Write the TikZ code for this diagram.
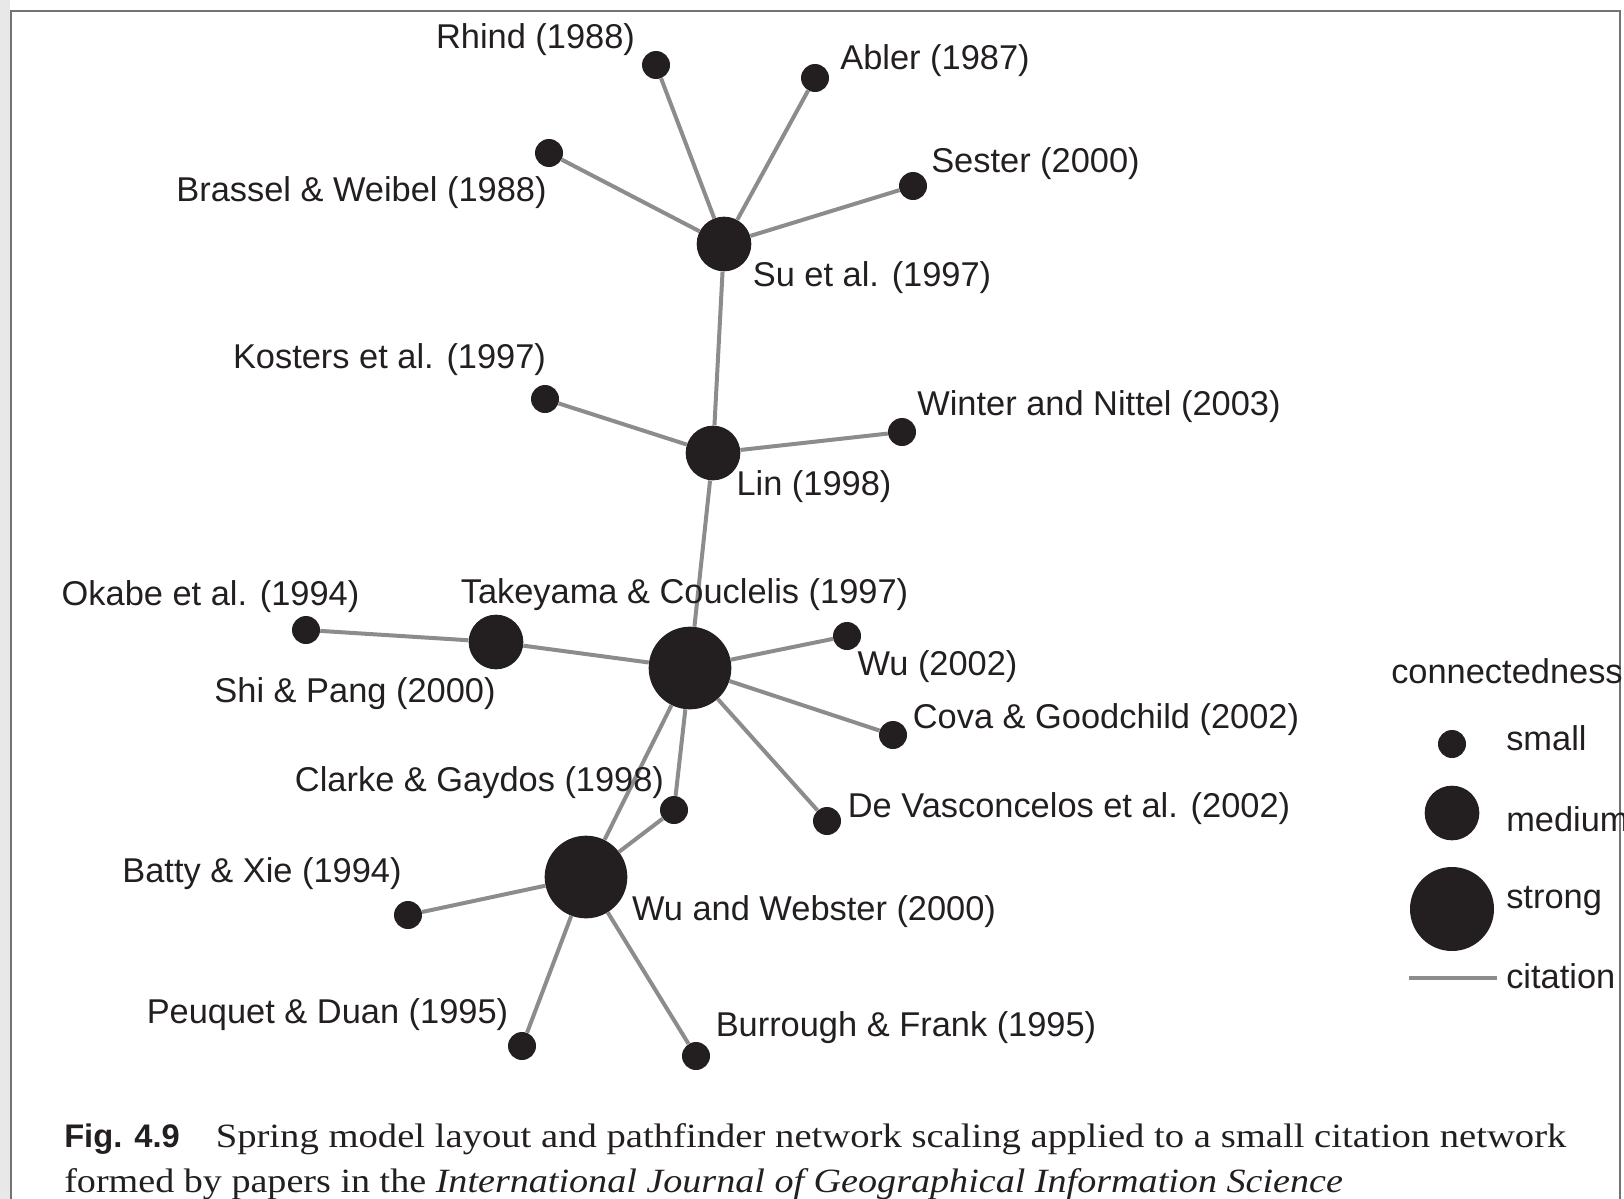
\documentclass[tikz,border=0pt]{standalone}
\usepackage{graphicx}
\usepackage{fontspec}
\setmainfont{Liberation Serif}
\setsansfont{Liberation Sans}
\definecolor{inkblack}{RGB}{35,31,32}
\definecolor{citegray}{RGB}{140,140,140}
\definecolor{framegray}{RGB}{115,115,115}
\tikzset{
	dotnode/.style={circle, fill=inkblack, inner sep=0pt},
	smalldot/.style={dotnode, minimum size=21pt},
	meddot/.style={dotnode, minimum size=41pt},
	bigdot/.style={dotnode, minimum size=62pt},
	lbl/.style={inner sep=0pt, text=inkblack, font=\sffamily\fontsize{25.8}{31}\selectfont},
	citeline/.style={draw=citegray, line width=3pt},
	captxt/.style={inner sep=0pt, text=inkblack, font=\fontsize{25.5}{31}\selectfont},
	capbold/.style={inner sep=0pt, text=inkblack, font=\sffamily\bfseries\fontsize{24.5}{31}\selectfont},
}
\begin{document}
\begin{tikzpicture}[x=0.75pt,y=0.75pt,yscale=-1,xscale=1]
	\useasboundingbox (0,0) rectangle (1624,1199);
	% Page edge
	\fill[gray!18] (0,0) rectangle (10,1199);
	\draw[framegray, line width=1.5pt] (11,1210) -- (11,11) -- (1620,11) -- (1620,1210);
	
	% Dots
	\node[meddot] (su) at (724,244) {};
	\node[smalldot] (rhind) at (656,65) {};
	\node[smalldot] (abler) at (815,78) {};
	\node[smalldot] (brassel) at (549,153) {};
	\node[smalldot] (sester) at (913,186) {};
	\node[meddot] (lin) at (713,453) {};
	\node[smalldot] (kosters) at (545,399) {};
	\node[smalldot] (winter) at (902,432) {};
	\node[bigdot] (tak) at (690,668) {};
	\node[meddot] (shi) at (496,642) {};
	\node[smalldot] (okabe) at (306,630) {};
	\node[smalldot] (wu) at (847,636) {};
	\node[smalldot] (cova) at (893,735) {};
	\node[smalldot] (devasc) at (827,821) {};
	\node[smalldot] (clarke) at (674,810) {};
	\node[bigdot] (wuweb) at (586,877) {};
	\node[smalldot] (batty) at (408,915) {};
	\node[smalldot] (peuquet) at (522,1046) {};
	\node[smalldot] (burrough) at (696,1056) {};
	
	% Connection
	\draw[citeline] (su) -- (rhind);
	\draw[citeline] (su) -- (abler);
	\draw[citeline] (su) -- (brassel);
	\draw[citeline] (su) -- (sester);
	\draw[citeline] (su) -- (lin);
	\draw[citeline] (lin) -- (kosters);
	\draw[citeline] (lin) -- (winter);
	\draw[citeline] (lin) -- (tak);
	\draw[citeline] (tak) -- (shi);
	\draw[citeline] (shi) -- (okabe);
	\draw[citeline] (tak) -- (wu);
	\draw[citeline] (tak) -- (cova);
	\draw[citeline] (tak) -- (devasc);
	\draw[citeline] (tak) -- (clarke);
	\draw[citeline] (tak) -- (wuweb);
	\draw[citeline] (clarke) -- (wuweb);
	\draw[citeline] (wuweb) -- (batty);
	\draw[citeline] (wuweb) -- (peuquet);
	\draw[citeline] (wuweb) -- (burrough);
	
	% Text Node
	\node[lbl] (rhindL) at (535.5,40) {Rhind (1988)};
	\node[lbl] (ablerL) at (935,61) {Abler (1987)};
	\node[lbl] (brasselL) at (361.5,192.5) {Brassel \& Weibel (1988)};
	\node[lbl] (sesterL) at (1035.5,163.5) {Sester (2000)};
	\node[lbl] (suL) at (872,277.5) {Su et al. (1997)};
	\node[lbl] (kostersL) at (389.5,359.5) {Kosters et al. (1997)};
	\node[lbl] (winterL) at (1099,407) {Winter and Nittel (2003)};
	\node[lbl] (linL) at (814,486.5) {Lin (1998)};
	\node[lbl] (okabeL) at (210.5,596.5) {Okabe et al. (1994)};
	\node[lbl] (takL) at (684.5,594.5) {Takeyama \& Couclelis (1997)};
	\node[lbl] (shiL) at (355,694) {Shi \& Pang (2000)};
	\node[lbl] (wuL) at (937.5,667) {Wu (2002)};
	\node[lbl] (covaL) at (1106,720) {Cova \& Goodchild (2002)};
	\node[lbl] (clarkeL) at (479.5,783) {Clarke \& Gaydos (1998)};
	\node[lbl] (devascL) at (1069,809) {De Vasconcelos et al. (2002)};
	\node[lbl] (battyL) at (262,874) {Batty \& Xie (1994)};
	\node[lbl] (wuwebL) at (814,911.5) {Wu and Webster (2000)};
	\node[lbl] (peuquetL) at (327.5,1015) {Peuquet \& Duan (1995)};
	\node[lbl] (burroughL) at (906,1027.5) {Burrough \& Frank (1995)};
	
	% Legend
	\node[lbl, anchor=base west] (legtitle) at (1391,683) {connectedness};
	\node[smalldot] (legsmall) at (1452,744) {};
	\node[dotnode, minimum size=41pt] (legmed) at (1452,813) {};
	\node[dotnode, minimum size=63pt] (legbig) at (1452,909) {};
	\node[lbl, anchor=base west] (legsmallL) at (1506,750) {small};
	\node[lbl, anchor=base west] (legmedL) at (1506,831.5) {medium};
	\node[lbl, anchor=base west] (legbigL) at (1506,908) {strong};
	\coordinate (legA) at (1409,978);
	\coordinate (legB) at (1497,978);
	\draw[citeline] (legA) -- (legB);
	\node[lbl, anchor=base west] (legciteL) at (1506,988) {citation};
	
	% Caption
	\node[capbold, anchor=base west] (figno) at (64,1147) {Fig. 4.9};
	\node[captxt, anchor=base west] (capone) at (215.5,1147) {\scalebox{1.137}[1]{Spring model layout and pathfinder network scaling applied to a small citation network}};
	\node[captxt, anchor=base west] (captwo) at (64,1192) {\scalebox{1.121}[1]{formed by papers in the \textit{International Journal of Geographical Information Science}}};
\end{tikzpicture}
\end{document}
